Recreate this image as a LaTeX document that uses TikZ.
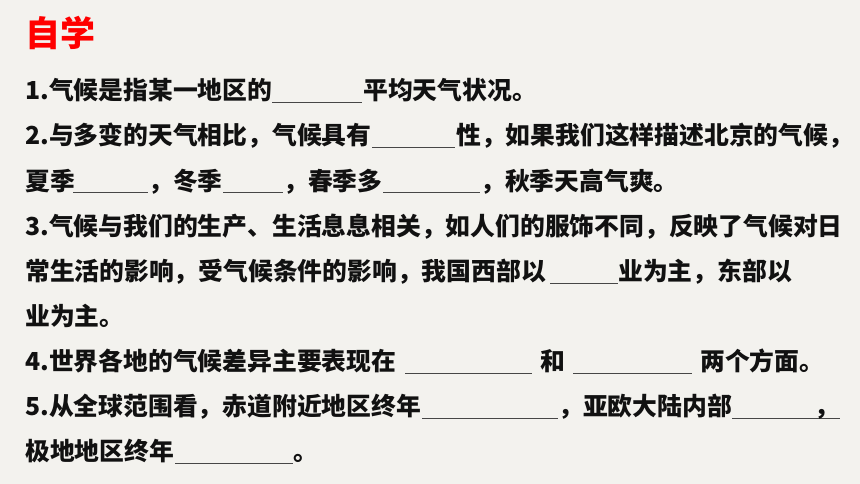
\documentclass[tikz,border=0pt]{standalone}
\usepackage{fontspec}
\newfontfamily\cjk{Noto Sans CJK SC}
\definecolor{bg}{RGB}{243,242,238}
\definecolor{ink}{RGB}{17,17,17}
\definecolor{titlered}{RGB}{255,0,0}
\definecolor{lineink}{RGB}{70,70,70}
\tikzset{
  txt/.style={inner sep=0pt, anchor=base west, text=ink, font=\cjk\bfseries\fontsize{24.8}{24.8}\selectfont},
  ttl/.style={inner sep=0pt, anchor=base west, text=titlered, font=\cjk\bfseries\fontsize{35}{35}\selectfont},
  blank/.style={draw=lineink, line width=1pt}
}
\begin{document}
\begin{tikzpicture}[x=1pt,y=1pt]
\fill[bg] (0,0) rectangle (860,-484);
\useasboundingbox (0,0) rectangle (860,-484);
% title
\node[ttl] (title) at (25,-47) {自学};
% line 1
\node[txt] (l1a) at (25,-100) {1.气候是指某一地区的};
\draw[blank] (272,-103) -- (362,-103);
\node[txt] (l1b) at (363,-100) {平均天气状况。};
% line 2
\node[txt] (l2a) at (25,-145) {2.与多变的天气相比，气候具有};
\draw[blank] (372,-148) -- (455,-148);
\node[txt] (l2b) at (456,-145) {性，如果我们这样描述北京的气候，};
% line 3
\node[txt] (l3a) at (25,-190) {夏季};
\draw[blank] (73,-193) -- (148,-193);
\node[txt] (l3b) at (148,-190) {，冬季};
\draw[blank] (223,-193) -- (283,-193);
\node[txt] (l3c) at (283,-190) {，春季多};
\draw[blank] (383,-193) -- (480,-193);
\node[txt] (l3d) at (480,-190) {，秋季天高气爽。};
% line 4
\node[txt] (l4a) at (25,-235) {3.气候与我们的生产、生活息息相关，如人们的服饰不同，反映了气候对日};
% line 5
\node[txt] (l5a) at (25,-280) {常生活的影响，受气候条件的影响，我国西部以};
\draw[blank] (550,-283) -- (618,-283);
\node[txt] (l5b) at (618,-280) {业为主，东部以};
% line 6
\node[txt] (l6a) at (25,-325) {业为主。};
% line 7
\node[txt] (l7a) at (25,-370) {4.世界各地的气候差异主要表现在};
\draw[blank] (405,-373) -- (532,-373);
\node[txt] (l7b) at (540,-370) {和};
\draw[blank] (573,-373) -- (692,-373);
\node[txt] (l7c) at (700,-370) {两个方面。};
% line 8
\node[txt] (l8a) at (25,-415) {5.从全球范围看，赤道附近地区终年};
\draw[blank] (422,-418) -- (558,-418);
\node[txt] (l8b) at (558,-415) {，亚欧大陆内部};
\draw[blank] (732,-418) -- (840,-418);
\node[txt] (l8c) at (814,-415) {，};
% line 9
\node[txt] (l9a) at (25,-460) {极地地区终年};
\draw[blank] (175,-463) -- (293,-463);
\node[txt] (l9b) at (293,-460) {。};
\end{tikzpicture}
\end{document}
